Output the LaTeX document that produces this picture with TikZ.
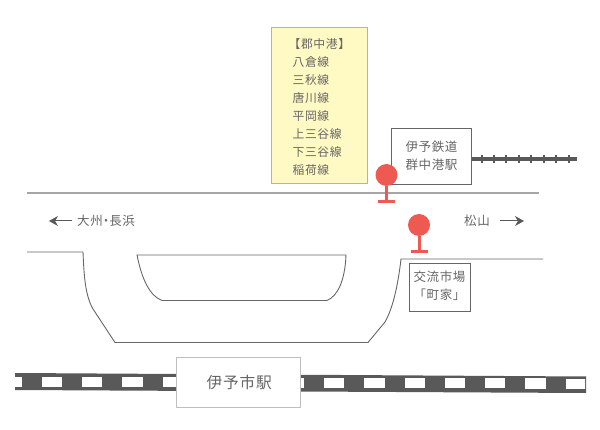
\documentclass[tikz,border=0pt]{standalone}
\usepackage{fontspec}
\setmainfont{Noto Sans CJK JP}[LetterSpace=5]
\usetikzlibrary{arrows.meta}
\definecolor{txtc}{HTML}{666666}
\definecolor{railc}{HTML}{595959}
\definecolor{pinc}{HTML}{EE5A52}
\definecolor{panelc}{HTML}{FFF9C4}
\tikzset{
  lab/.style={text=txtc,font=\fontsize{12.5}{18}\selectfont,inner sep=0pt},
  road/.style={draw=black!60,line width=0.9pt},
  labbox/.style={draw=black!60,line width=0.8pt,fill=white},
  dirarrow/.style={draw=black!65,line width=1pt,-{Stealth[length=9pt,width=10pt]}},
  pinhead/.style={circle,fill=pinc,inner sep=0pt,minimum size=22pt},
}
\begin{document}
\begin{tikzpicture}[x=1pt,y=-1pt]
\useasboundingbox (0,0) rectangle (600,430);
% yellow panel
\node[draw=black!30,line width=1pt,fill=panelc,minimum width=96pt,minimum height=156pt,inner sep=0pt] (panel) at (319,106) {};
\node[lab,anchor=north west,font=\fontsize{11.8}{18}\selectfont] (lines) at (292.5,36) {\begin{tabular}{@{}l@{}}\hspace{-4pt}【郡中港】\\八倉線\\三秋線\\唐川線\\平岡線\\上三谷線\\下三谷線\\稲荷線\end{tabular}};
% top road
\coordinate (rl) at (27,193); \coordinate (rr) at (539,193);
\draw[draw=black!35,line width=1.6pt] (rl) -- (rr);
% small rail
\coordinate (sr1) at (470,159); \coordinate (sr2) at (577,159);
\draw[railc,line width=3.5pt] (sr1) -- (sr2);
\foreach \xp in {481.5,494,506,518.5,531,543.5,556,568.5}{
  \draw[railc,line width=2pt] (\xp,155) -- (\xp,163);
}
% station box
\node[labbox,minimum width=80pt,minimum height=56pt,inner sep=0pt,lab] (gunchu) at (431.5,156.5) {\begin{tabular}{@{}c@{}}伊予鉄道\\群中港駅\end{tabular}};
% pins
\node[pinhead] (pa) at (386.5,175) {};
\coordinate (pab) at (386.5,202);
\draw[pinc,line width=3pt] (pa) -- (pab);
\draw[pinc,line width=3pt] (378,202) -- (395,202);
\node[pinhead] (pb) at (419,225) {};
\coordinate (pbb) at (419,252);
\draw[pinc,line width=3pt] (pb) -- (pbb);
\draw[pinc,line width=3pt] (410.5,252) -- (427.5,252);
% direction labels
\node[lab] (oz) at (106,220.5) {大州\hspace{-3pt}・\hspace{-3pt}長浜};
\coordinate (ozs) at (72,221); \coordinate (oze) at (49,221);
\draw[dirarrow] (ozs) -- (oze);
\node[lab] (mt) at (477,220.5) {松山};
\coordinate (mts) at (500,221); \coordinate (mte) at (524,221);
\draw[dirarrow] (mts) -- (mte);
% roads
\draw[road] (27,252) -- (83,252) .. controls (84,275) and (85,295) .. (93,309) -- (115,342.5) -- (368,342.5)
  -- (385,322) .. controls (393,308) and (398,285) .. (401,259) -- (543,259);
\draw[road] (137,255) -- (346,255) .. controls (345,280) and (338,296) .. (327,300.5) -- (162,300.5) .. controls (150,296) and (142,280) .. (137,255) -- cycle;
% market box
\node[labbox,minimum width=61pt,minimum height=48pt,inner sep=0pt,lab] (mk) at (439.5,287) {\begin{tabular}{@{}c@{}}交流市場\\「町家」\end{tabular}};
% big rail
\fill[railc] (15,373) -- (586,376.5) -- (586,393) -- (15,390) -- cycle;
\begin{scope}
\clip (15,370) rectangle (585,395);
\foreach \k in {0,...,14}{
  \pgfmathsetmacro{\xa}{1.5+40.3*\k}
  \pgfmathsetmacro{\ya}{376.7+0.0035*(\xa-40)}
  \fill[white] (\xa,\ya) rectangle ++(20.3,10.2);
}
\end{scope}
\node[draw=black!25,line width=1pt,fill=white,minimum width=124pt,minimum height=50pt,inner sep=0pt,lab,font=\fontsize{15.7}{16}\selectfont] (iyo) at (238.5,382.5) {\hspace{1.5pt}伊予市駅};
\end{tikzpicture}
\end{document}
